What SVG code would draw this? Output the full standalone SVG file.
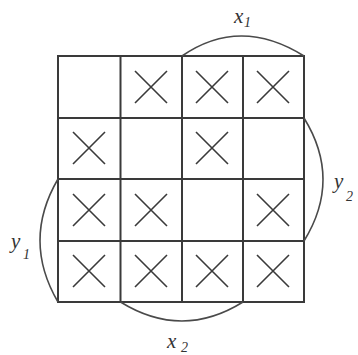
<svg xmlns="http://www.w3.org/2000/svg" width="358" height="355" viewBox="0 0 358 355">
<style>
.grid{fill:none;stroke:#3a3a3a;stroke-width:2}
.x{stroke:#3a3a3a;stroke-width:1.6;fill:none}
.arc{fill:none;stroke:#4a4a4a;stroke-width:1.6}
.lbl{font-family:"Liberation Serif",serif;font-style:italic;font-size:21px;fill:#333}
.sub{font-family:"Liberation Serif",serif;font-style:italic;font-size:14px;fill:#333}
</style>
<defs>
<path id="cross" d="M-16,-16 L16,16 M16,-16 L-16,16"/>
</defs>
<rect width="358" height="355" fill="#fff"/>
<g id="grid" class="grid">
<rect x="58" y="56" width="246" height="246"/>
<path d="M120.5,56V302M182,56V302M243,56V302M58,118H304M58,179H304M58,241H304"/>
</g>
<g id="marks" class="x">
<use href="#cross" x="151" y="87"/>
<use href="#cross" x="212" y="87"/>
<use href="#cross" x="273" y="87"/>
<use href="#cross" x="89" y="148"/>
<use href="#cross" x="212" y="148"/>
<use href="#cross" x="89" y="210"/>
<use href="#cross" x="151" y="210"/>
<use href="#cross" x="273" y="210"/>
<use href="#cross" x="89" y="271"/>
<use href="#cross" x="151" y="271"/>
<use href="#cross" x="212" y="271"/>
<use href="#cross" x="273" y="271"/>
</g>
<g id="connectors">
<path class="arc" d="M182,56 Q240,16 304,56"/>
<path class="arc" d="M304,118 Q342,179.5 304,241"/>
<path class="arc" d="M58,179 Q22,240.5 58,302"/>
<path class="arc" d="M120.5,302 Q182,340 243,302"/>
</g>
<g id="label-x1"><text class="lbl" x="234" y="23">x</text><text class="sub" x="244" y="27">1</text></g>
<g id="label-y2"><text class="lbl" x="334" y="188">y</text><text class="sub" x="346" y="201">2</text></g>
<g id="label-y1"><text class="lbl" x="11" y="248">y</text><text class="sub" x="23" y="259">1</text></g>
<g id="label-x2"><text class="lbl" x="167" y="348">x</text><text class="sub" x="181" y="352">2</text></g>
</svg>
